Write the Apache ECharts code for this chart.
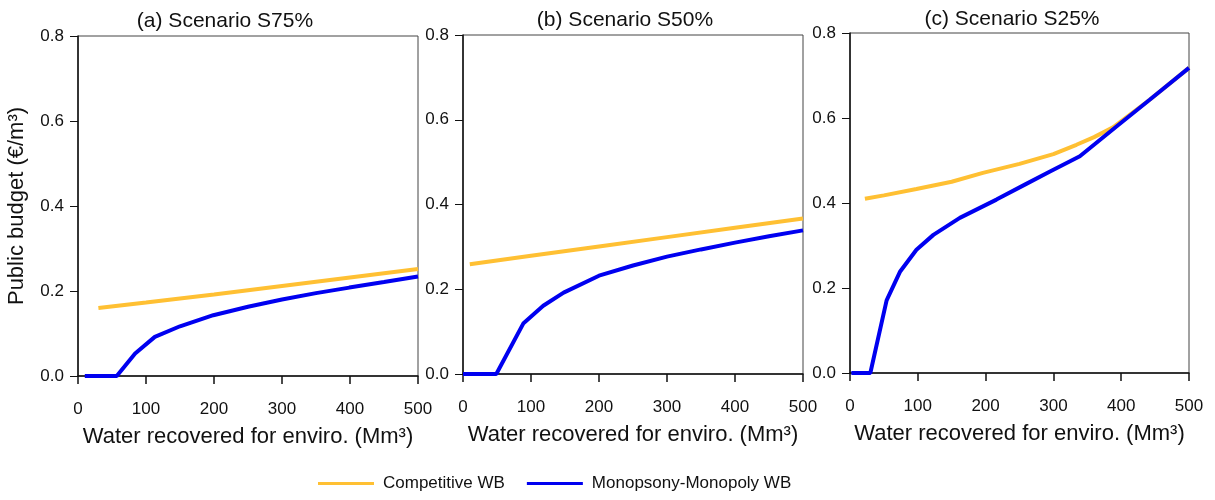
<!DOCTYPE html>
<html>
<head>
<meta charset="utf-8">
<script src="https://cdn.jsdelivr.net/npm/echarts@6/dist/echarts.min.js"></script>
<style>
  html, body { margin: 0; padding: 0; background: #fff; }
  #chart { width: 1215px; height: 500px; }
</style>
</head>
<body>
<div id="chart"></div>
<script>
const FONT_FAMILY = "Arial, 'Liberation Sans', sans-serif"
const COLORS = {
  competitive: '#FFC033',
  monopoly: '#0000F0',
  text: '#111',
  axis: '#111',
  frame: '#444',
}

const SERIES_NAMES = ['Competitive WB', 'Monopsony-Monopoly WB']
const PANEL_TITLES = ['(a) Scenario S75%', '(b) Scenario S50%', '(c) Scenario S25%']
const X_TICKS = [0, 100, 200, 300, 400, 500]
const Y_TICKS = [0, 0.2, 0.4, 0.6, 0.8]

// (a) S75%
const aCompX = [30, 100, 200, 300, 400, 500]
const aCompY = [0.160, 0.173, 0.192, 0.212, 0.232, 0.252]
const aMonoX = [10, 57, 84, 113, 150, 199, 250, 300, 350, 399, 450, 500]
const aMonoY = [0, 0, 0.053, 0.092, 0.117, 0.143, 0.163, 0.180, 0.195, 0.208, 0.221, 0.234]

// (b) S50%
const bCompX = [10, 100, 200, 300, 400, 500]
const bCompY = [0.259, 0.279, 0.301, 0.323, 0.345, 0.367]
const bMonoX = [0, 49, 89, 118, 148, 200, 250, 300, 350, 400, 450, 500]
const bMonoY = [0, 0, 0.120, 0.161, 0.192, 0.232, 0.256, 0.277, 0.294, 0.310, 0.325, 0.339]

// (c) S25%
const cCompX = [22, 50, 98, 150, 196, 250, 300, 334, 360, 388, 442, 500]
const cCompY = [0.410, 0.418, 0.433, 0.450, 0.471, 0.492, 0.515, 0.537, 0.555, 0.578, 0.643, 0.718]
const cMonoX = [2, 30, 54, 74, 98, 123, 162, 216, 260, 295, 339, 393, 442, 500]
const cMonoY = [0, 0, 0.171, 0.239, 0.290, 0.325, 0.365, 0.408, 0.445, 0.474, 0.510, 0.580, 0.643, 0.718]

const panels = [
  { comp: [aCompX, aCompY], mono: [aMonoX, aMonoY], grid: { left: 78, top: 36, width: 340, height: 340 }, titleX: 220, titleY: 6 },
  { comp: [bCompX, bCompY], mono: [bMonoX, bMonoY], grid: { left: 463, top: 35, width: 340, height: 339 }, titleX: 620, titleY: 5 },
  { comp: [cCompX, cCompY], mono: [cMonoX, cMonoY], grid: { left: 850, top: 33, width: 339, height: 340 }, titleX: 1007, titleY: 4 },
]

const zip = (xs, ys) => xs.map((x, i) => [x, ys[i]])

const chart = echarts.init(document.getElementById('chart'))

const grids = [], xAxes = [], yAxes = [], titles = [], series = []

panels.forEach((p, i) => {
  grids.push({ ...p.grid, show: true, borderColor: COLORS.frame, borderWidth: 1, outerBoundsMode: 'none' })
  titles.push({
    text: PANEL_TITLES[i],
    left: p.titleX,
    top: p.titleY,
    textAlign: 'center',
    textStyle: { fontFamily: FONT_FAMILY, fontSize: 21, fontWeight: 'normal', color: COLORS.text },
  })
  xAxes.push({
    gridIndex: i,
    type: 'value',
    min: X_TICKS[0],
    max: X_TICKS[X_TICKS.length - 1],
    interval: 100,
    name: 'Water recovered for enviro. (Mm³)',
    nameLocation: 'middle',
    nameGap: 50,
    nameTextStyle: { fontFamily: FONT_FAMILY, fontSize: 22, color: COLORS.text },
    axisLine: { show: true, onZero: false, lineStyle: { color: COLORS.axis, width: 1.5 } },
    axisTick: { show: true, inside: false, length: 8, lineStyle: { color: COLORS.axis, width: 1.5 } },
    axisLabel: { fontFamily: FONT_FAMILY, fontSize: 17, color: COLORS.text, margin: 25, showMinLabel: true, showMaxLabel: true },
    splitLine: { show: false },
  })
  yAxes.push({
    gridIndex: i,
    type: 'value',
    min: Y_TICKS[0],
    max: Y_TICKS[Y_TICKS.length - 1],
    interval: 0.2,
    name: i === 0 ? 'Public budget (€/m³)' : '',
    nameLocation: 'middle',
    nameGap: 50,
    nameTextStyle: { fontFamily: FONT_FAMILY, fontSize: 22, color: COLORS.text },
    axisLine: { show: true, onZero: false, lineStyle: { color: COLORS.axis, width: 1.5 } },
    axisTick: { show: true, inside: false, length: 8, lineStyle: { color: COLORS.axis, width: 1 } },
    axisLabel: {
      fontFamily: FONT_FAMILY, fontSize: 17, color: COLORS.text, margin: 14,
      showMinLabel: true, showMaxLabel: true,
      formatter: v => v.toFixed(1),
    },
    splitLine: { show: false },
  })
  series.push({
    name: SERIES_NAMES[0],
    type: 'line',
    xAxisIndex: i,
    yAxisIndex: i,
    data: zip(p.comp[0], p.comp[1]),
    showSymbol: false,
    symbol: 'none',
    lineStyle: { color: COLORS.competitive, width: 4 },
    itemStyle: { color: COLORS.competitive },
    z: 2,
  })
  series.push({
    name: SERIES_NAMES[1],
    type: 'line',
    xAxisIndex: i,
    yAxisIndex: i,
    data: zip(p.mono[0], p.mono[1]),
    showSymbol: false,
    symbol: 'none',
    lineStyle: { color: COLORS.monopoly, width: 4 },
    itemStyle: { color: COLORS.monopoly },
    z: 3,
  })
})

chart.setOption({
  animation: false,
  backgroundColor: '#fff',
  title: titles,
  legend: {
    data: SERIES_NAMES,
    left: 313,
    top: 470,
    icon: 'rect',
    itemWidth: 56,
    itemHeight: 3,
    itemGap: 22,
    textStyle: { fontFamily: FONT_FAMILY, fontSize: 17, color: COLORS.text, padding: [0, 0, 0, 4] },
  },
  grid: grids,
  xAxis: xAxes,
  yAxis: yAxes,
  series: series,
})
</script>
</body>
</html>
